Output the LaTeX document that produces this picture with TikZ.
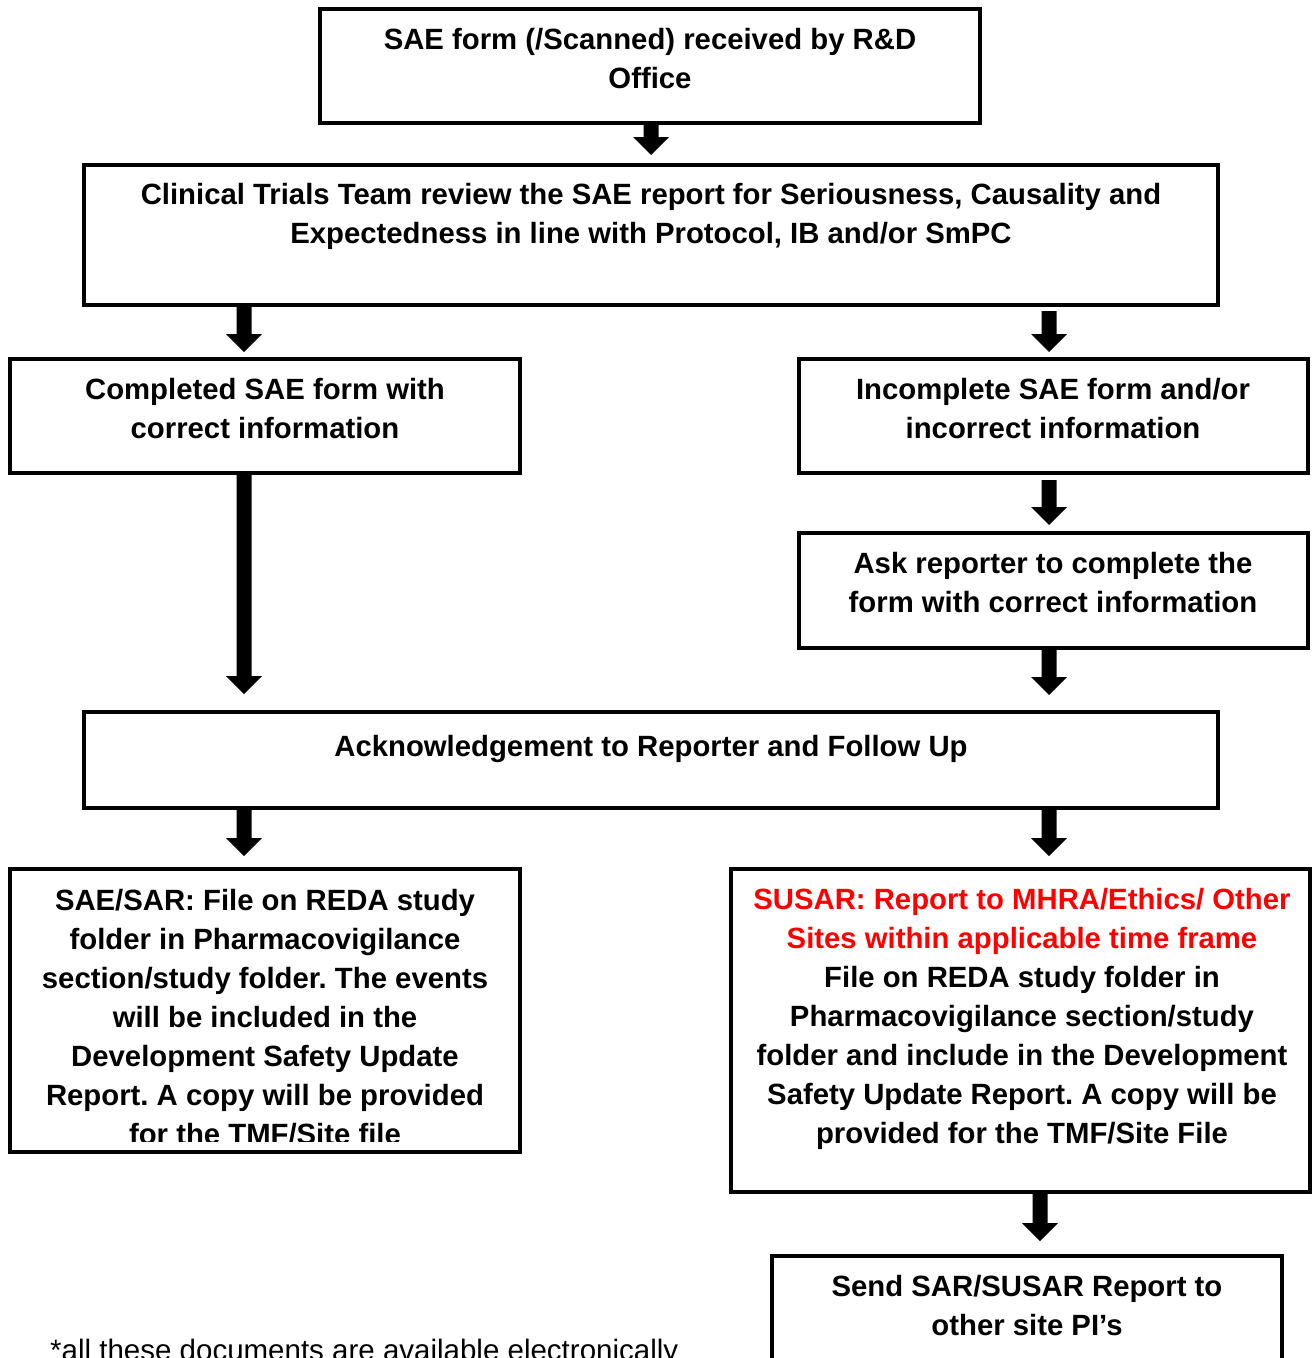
\documentclass[tikz,border=0pt]{standalone}
\usepackage{fontspec}
\setmainfont{Liberation Sans}
\usetikzlibrary{calc}
\definecolor{sred}{RGB}{255,0,0}
\frenchspacing
\tikzset{
  box/.style={draw, line width=4pt, rectangle, inner sep=0pt},
  txt/.style={anchor=north, align=center, inner sep=0pt, font=\bfseries\fontsize{29.3}{39}\selectfont},
}
\newcommand\barrow[2]{\fill let \p1=#1, \p2=#2 in (\x1-7.5pt,\y1) -- (\x1-7.5pt,\y2+18pt) -- (\x1-18pt,\y2+18pt) -- (\x1,\y2) -- (\x1+18pt,\y2+18pt) -- (\x1+7.5pt,\y2+18pt) -- (\x1+7.5pt,\y1) -- cycle;}
\begin{document}
\begin{tikzpicture}[x=1pt,y=-1pt]
\clip (0,0) rectangle (1313,1358);
\fill[white] (0,0) rectangle (1313,1358);
% boxes
\node[box, minimum width=660pt, minimum height=114pt] (b1) at (650,66) {};
\node[box, minimum width=1134pt, minimum height=140pt] (b2) at (651,235) {};
\node[box, minimum width=510pt, minimum height=114pt] (b3) at (265,416) {};
\node[box, minimum width=509pt, minimum height=114pt] (b4) at (1053.5,416) {};
\node[box, minimum width=509pt, minimum height=115pt] (b5) at (1053.5,590.5) {};
\node[box, minimum width=1134pt, minimum height=96pt] (b6) at (651,760) {};
\node[box, minimum width=510pt, minimum height=283pt] (b7) at (265,1010.5) {};
\node[box, minimum width=579pt, minimum height=323pt] (b8) at (1020.5,1030.5) {};
\node[box, minimum width=510pt, minimum height=164pt] (b9) at (1027,1338) {};
% texts
\node[txt] (t1) at (650,22.2) {\strut SAE form (/Scanned) received by R\&D\\Office};
\node[txt] (t2) at (651,177.2) {\strut Clinical Trials Team review the SAE report for Seriousness, Causality and\\Expectedness in line with Protocol, IB and/or SmPC};
\node[txt] (t3) at (265,372.2) {\strut Completed SAE form with\\correct information};
\node[txt] (t4) at (1053,372.2) {\strut Incomplete SAE form and/or\\incorrect information};
\node[txt] (t5) at (1053,546.2) {\strut Ask reporter to complete the\\form with correct information};
\node[txt] (t6) at (651,729.2) {\strut Acknowledgement to Reporter and Follow Up};
\begin{scope}
\clip (12,871) rectangle (518,1141);
\node[txt] (t7) at (265,883.2) {\strut SAE/SAR: File on REDA study\\folder in Pharmacovigilance\\section/study folder. The events\\will be included in the\\Development Safety Update\\Report. A copy will be provided\\for the TMF/Site file};
\end{scope}
\node[txt] (t8) at (1022,882.2) {\strut\textcolor{sred}{SUSAR: Report to MHRA/Ethics/ Other}\\\textcolor{sred}{Sites within applicable time frame}\\File on REDA study folder in\\Pharmacovigilance section/study\\folder and include in the Development\\Safety Update Report. A copy will be\\provided for the TMF/Site File};
\node[txt] (t9) at (1027,1269.2) {\strut Send SAR/SUSAR Report to\\other site PI’s};
\node[anchor=base west, inner sep=0pt, font=\fontsize{29.5}{39}\selectfont] (fn) at (50,1360.5) {*all these documents are available electronically};
% arrow columns
\coordinate (c1) at (651,0);
\coordinate (cL) at (244,0);
\coordinate (cR) at (1049,0);
\coordinate (cS) at (1040,0);
% arrows
\barrow{(b1.south -| c1)}{($(b2.north -| c1)+(0,-8)$)}
\barrow{(b2.south -| cL)}{($(b3.north -| cL)+(0,-5)$)}
\barrow{($(b2.south -| cR)+(0,4)$)}{($(b4.north -| cR)+(0,-5)$)}
\barrow{($(b4.south -| cR)+(0,5)$)}{($(b5.north -| cR)+(0,-6)$)}
\barrow{(b5.south -| cR)}{($(b6.north -| cR)+(0,-15)$)}
\barrow{(b3.south -| cL)}{($(b6.north -| cL)+(0,-16)$)}
\barrow{(b6.south -| cL)}{($(b7.north -| cL)+(0,-11)$)}
\barrow{(b6.south -| cR)}{($(b8.north -| cR)+(0,-11)$)}
\barrow{(b8.south -| cS)}{($(b9.north -| cS)+(0,-13)$)}
\end{tikzpicture}
\end{document}
